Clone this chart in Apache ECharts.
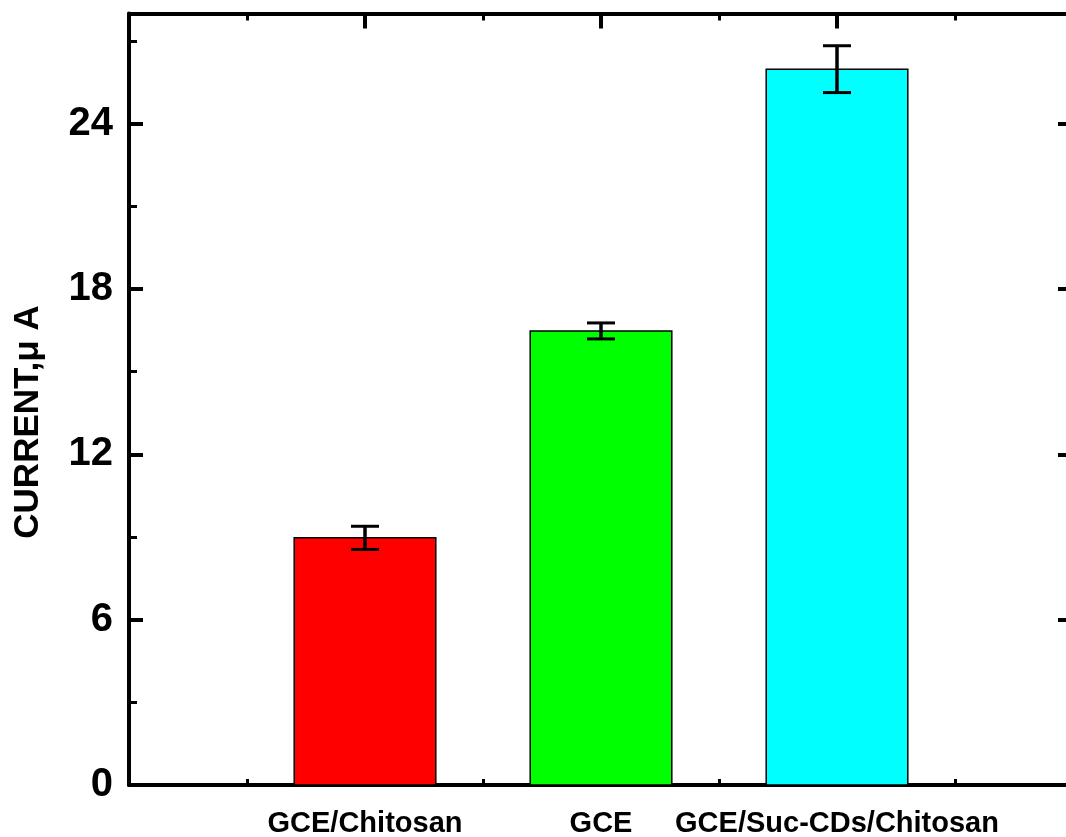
<!DOCTYPE html>
<html>
<head>
<meta charset="utf-8">
<script src="https://cdn.jsdelivr.net/npm/echarts@6/dist/echarts.min.js"></script>
<style>html,body{margin:0;padding:0;background:#fff;}#c{width:1066px;height:837px;}</style>
</head>
<body>
<div id="c"></div>
<script>
const categories = ['GCE/Chitosan', 'GCE', 'GCE/Suc-CDs/Chitosan'];
const values = [8.97, 16.48, 25.98];
const errors = [0.42, 0.29, 0.85];
const colors = ['#FF0000', '#00FF00', '#00FFFF'];
const yMajor = [0, 6, 12, 18, 24];
const yMinor = [3, 9, 15, 21, 27];
const xMajor = [1, 2, 3];
const xMinor = [0.5, 1.5, 2.5, 3.5];
const yTitle = 'CURRENT,\u03bc A';

const FONT = "'Liberation Sans', Arial, sans-serif";
const chart = echarts.init(document.getElementById('c'), null, {renderer: 'canvas'});

function xAx(pos, ticks, len, w, showLine, labels) {
  return {
    type: 'value', min: 0, max: 4, interval: 0.5, position: pos,
    axisLine: {show: showLine, onZero: false, lineStyle: {color: '#000', width: 4}},
    axisTick: {show: true, inside: true, length: len, customValues: ticks, lineStyle: {color: '#000', width: w}},
    axisLabel: labels ? {
      show: true, customValues: ticks, margin: 24,
      formatter: v => categories[Math.round(v) - 1] || '',
      fontSize: 29, fontWeight: 'bold', color: '#000', fontFamily: FONT
    } : {show: false},
    splitLine: {show: false}
  };
}
function yAx(pos, ticks, len, w, showLine, labels) {
  return {
    type: 'value', min: 0, max: 28, interval: 3, position: pos,
    axisLine: {show: showLine, onZero: false, lineStyle: {color: '#000', width: 4}},
    axisTick: {show: true, inside: true, length: len, customValues: ticks, lineStyle: {color: '#000', width: w}},
    axisLabel: labels ? {
      show: true, customValues: ticks, margin: 16,
      fontSize: 40, fontWeight: 'bold', color: '#000', fontFamily: FONT
    } : {show: false},
    splitLine: {show: false}
  };
}

chart.setOption({
  animation: false,
  backgroundColor: '#fff',
  grid: {left: 129, width: 944, top: 13.5, height: 771.5, containLabel: false, outerBoundsMode: 'none'},
  xAxis: [
    xAx('bottom', xMajor, 14, 4, true, true),
    xAx('bottom', xMinor, 6, 3, false, false),
    xAx('top', xMajor, 15, 4, true, false),
    xAx('top', xMinor, 7, 3, false, false)
  ],
  yAxis: [
    yAx('left', yMajor, 14, 4, true, true),
    yAx('left', yMinor, 8, 3, false, false),
    yAx('right', yMajor, 15, 4, true, false),
    yAx('right', yMinor, 6, 3, false, false)
  ],
  graphic: [{
    type: 'text', x: 28, y: 422, rotation: Math.PI / 2,
    style: {text: yTitle, fontSize: 35, fontWeight: 'bold', fontFamily: FONT, fill: '#000',
      align: 'center', verticalAlign: 'middle'}
  }],
  series: [
    {
      type: 'custom', xAxisIndex: 0, yAxisIndex: 0, z: 2,
      data: values.map((v, i) => [i + 1, v]),
      encode: {x: 0, y: 1},
      renderItem: function (params, api) {
        const x = api.value(0), y = api.value(1);
        const p = api.coord([x, y]);
        const p0 = api.coord([x, 0]);
        const w = api.size([0.6, 0])[0];
        return {
          type: 'rect',
          shape: {x: p[0] - w / 2, y: p[1], width: w, height: p0[1] - p[1]},
          style: {fill: colors[params.dataIndex], stroke: '#000', lineWidth: 1.5}
        };
      }
    },
    {
      type: 'custom', xAxisIndex: 0, yAxisIndex: 0, z: 3,
      data: values.map((v, i) => [i + 1, v - errors[i], v + errors[i]]),
      encode: {x: 0, y: [1, 2]},
      renderItem: function (params, api) {
        const x = api.value(0);
        const lo = api.coord([x, api.value(1)]);
        const hi = api.coord([x, api.value(2)]);
        const hw = 14;
        const st = {stroke: '#000', lineWidth: 3.5};
        return {
          type: 'group',
          children: [
            {type: 'line', shape: {x1: lo[0], y1: lo[1], x2: hi[0], y2: hi[1]}, style: st},
            {type: 'line', shape: {x1: hi[0] - hw, y1: hi[1], x2: hi[0] + hw, y2: hi[1]}, style: {stroke: '#000', lineWidth: 3}},
            {type: 'line', shape: {x1: lo[0] - hw, y1: lo[1], x2: lo[0] + hw, y2: lo[1]}, style: {stroke: '#000', lineWidth: 3}}
          ]
        };
      }
    }
  ]
});
</script>
</body>
</html>
